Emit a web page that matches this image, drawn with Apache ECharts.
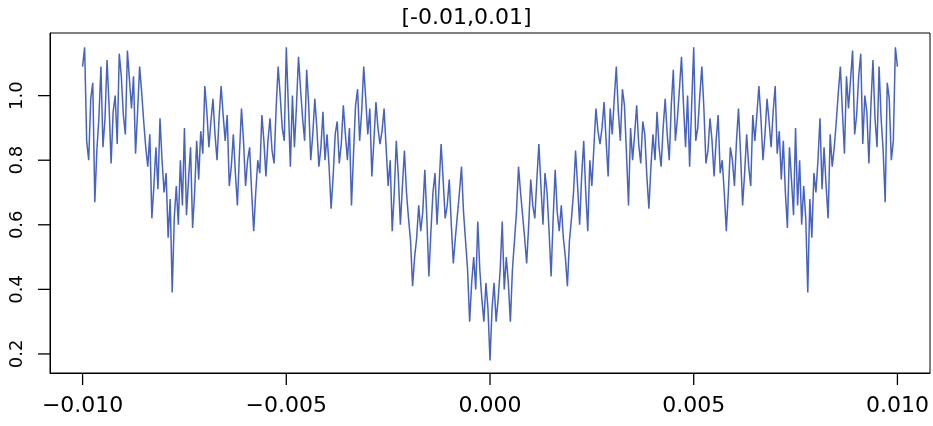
<!DOCTYPE html>
<html>
<head>
<meta charset="utf-8">
<script src="https://cdn.jsdelivr.net/npm/echarts@6/dist/echarts.min.js"></script>
<style>
  html, body { margin: 0; padding: 0; background: #fff; }
  #main { width: 933px; height: 426px; }
</style>
</head>
<body>
<div id="main"></div>
<script>
// sampling grid on x: -0.01 .. 0.01, step 0.00005
var xStart = -0.01;
var xStep = 0.00005;

// values, left half (x = -0.01000 .. 0.00000)
var leftValues = [
  1.09, 1.15, 0.86, 0.80, 0.99, 1.04, 0.67, 0.83, 0.93, 1.09,
  0.84, 0.93, 1.11, 0.97, 0.79, 0.95, 1.00, 0.85, 1.13, 1.06,
  0.94, 0.88, 1.14, 1.05, 0.96, 1.06, 0.82, 0.95, 1.09, 1.01,
  0.92, 0.84, 0.78, 0.88, 0.62, 0.72, 0.84, 0.71, 0.93, 0.80,
  0.70, 0.76, 0.56, 0.68, 0.39, 0.62, 0.72, 0.60, 0.80, 0.66,
  0.90, 0.63, 0.74, 0.84, 0.59, 0.70, 0.86, 0.74, 0.89, 0.82,
  1.03, 0.95, 0.84, 0.92, 0.99, 0.88, 0.80, 0.93, 1.03, 0.94,
  0.86, 0.94, 0.72, 0.78, 0.88, 0.76, 0.66, 0.82, 0.96, 0.86,
  0.72, 0.80, 0.84, 0.70, 0.58, 0.70, 0.80, 0.76, 0.94, 0.86,
  0.75, 0.86, 0.93, 0.83, 0.79, 0.96, 1.09, 1.00, 0.90, 0.86,
  1.15, 0.97, 0.78, 1.00, 0.84, 0.97, 1.12, 1.02, 0.93, 0.86,
  1.08, 0.97, 0.80, 0.88, 0.99, 0.90, 0.78, 0.84, 0.95, 0.80,
  0.88, 0.78, 0.65, 0.75, 0.88, 0.92, 0.79, 0.85, 0.97, 0.88,
  0.80, 0.90, 0.66, 0.82, 0.97, 1.02, 0.86, 0.95, 1.09, 0.99,
  0.88, 0.96, 0.75, 0.86, 0.98, 0.90, 0.85, 0.89, 0.96, 0.84,
  0.72, 0.80, 0.58, 0.70, 0.86, 0.75, 0.60, 0.72, 0.83, 0.70,
  0.62, 0.55, 0.41, 0.50, 0.56, 0.66, 0.58, 0.64, 0.77, 0.62,
  0.44, 0.58, 0.70, 0.76, 0.60, 0.72, 0.85, 0.74, 0.62, 0.66,
  0.74, 0.60, 0.48, 0.56, 0.63, 0.70, 0.78, 0.64, 0.55, 0.46,
  0.30, 0.42, 0.50, 0.40, 0.61, 0.46, 0.37, 0.30, 0.42, 0.34,
  0.18
];

// right half (x = 0.00005 .. 0.01000)
var rightValues = [
  0.34, 0.42, 0.30, 0.37, 0.46, 0.61, 0.40, 0.50, 0.42, 0.30,
  0.46, 0.55, 0.64, 0.78, 0.70, 0.63, 0.56, 0.48, 0.60, 0.74,
  0.66, 0.62, 0.74, 0.85, 0.72, 0.60, 0.76, 0.70, 0.58, 0.44,
  0.62, 0.77, 0.64, 0.58, 0.66, 0.56, 0.50, 0.41, 0.55, 0.62,
  0.70, 0.83, 0.72, 0.60, 0.75, 0.86, 0.70, 0.58, 0.80, 0.72,
  0.84, 0.96, 0.89, 0.85, 0.90, 0.98, 0.86, 0.75, 0.96, 0.88,
  0.99, 1.09, 0.95, 0.86, 1.02, 0.97, 0.82, 0.66, 0.90, 0.80,
  0.88, 0.97, 0.85, 0.79, 0.92, 0.88, 0.75, 0.65, 0.78, 0.88,
  0.80, 0.95, 0.84, 0.78, 0.90, 0.99, 0.88, 0.80, 0.97, 1.08,
  0.86, 0.93, 1.02, 1.12, 0.97, 0.84, 1.00, 0.78, 0.97, 1.15,
  0.86, 0.90, 1.00, 1.09, 0.96, 0.79, 0.83, 0.93, 0.86, 0.75,
  0.86, 0.94, 0.76, 0.80, 0.70, 0.58, 0.70, 0.84, 0.80, 0.72,
  0.86, 0.96, 0.82, 0.66, 0.76, 0.88, 0.78, 0.72, 0.94, 0.86,
  0.94, 1.03, 0.93, 0.80, 0.88, 0.99, 0.92, 0.84, 0.95, 1.03,
  0.82, 0.89, 0.74, 0.86, 0.70, 0.59, 0.84, 0.74, 0.63, 0.90,
  0.66, 0.80, 0.60, 0.72, 0.62, 0.39, 0.68, 0.56, 0.76, 0.70,
  0.80, 0.93, 0.71, 0.84, 0.72, 0.62, 0.88, 0.78, 0.84, 0.92,
  1.01, 1.09, 0.95, 0.82, 1.06, 0.96, 1.05, 1.14, 0.88, 0.94,
  1.06, 1.13, 0.85, 1.00, 0.95, 0.79, 0.97, 1.11, 0.93, 0.84,
  1.09, 0.93, 0.83, 0.67, 1.04, 0.99, 0.80, 0.86, 1.15, 1.09
];

var xTicks = [-0.01, -0.005, 0, 0.005, 0.01];
var yTicks = [0.2, 0.4, 0.6, 0.8, 1.0];

var xMin = -0.0108, xMax = 0.0108;
var yMin = 0.141, yMax = 1.194;

var allValues = leftValues.concat(rightValues);
var points = allValues.map(function (v, i) {
  return [+(xStart + i * xStep).toFixed(5), v];
});

// tick marks drawn with a custom series, so they go through the axes' scales
var tickLen = 12;
var tickData = xTicks.map(function (v) { return [v, yMin, 0]; })
  .concat(yTicks.map(function (v) { return [xMin, v, 1]; }));

function renderTick(params, api) {
  var p = api.coord([api.value(0), api.value(1)]);
  var isY = api.value(2) === 1;
  return {
    type: 'line',
    shape: isY
      ? { x1: p[0], y1: p[1], x2: p[0] - tickLen, y2: p[1] }
      : { x1: p[0], y1: p[1], x2: p[0], y2: p[1] + tickLen },
    style: { stroke: '#000', lineWidth: 1.3 }
  };
}

var chart = echarts.init(document.getElementById('main'));
chart.setOption({
  animation: false,
  title: {
    text: '[-0.01,0.01]',
    left: 'center',
    top: 2,
    textStyle: {
      fontFamily: 'DejaVu Sans',
      fontSize: 22,
      fontWeight: 'normal',
      color: '#000'
    }
  },
  grid: {
    left: 50,
    right: 3,
    top: 33,
    bottom: 53,
    show: true,
    borderColor: '#000',
    borderWidth: 1
  },
  xAxis: {
    type: 'value',
    min: xMin,
    max: xMax,
    splitLine: { show: false },
    axisLine: { show: true, onZero: false, lineStyle: { color: '#000' } },
    axisTick: { show: false },
    axisLabel: {
      customValues: xTicks,
      margin: 22,
      fontFamily: 'DejaVu Sans',
      fontSize: 22,
      color: '#000',
      formatter: function (v) {
        return (v < 0 ? '\u2212' : '') + Math.abs(v).toFixed(3);
      }
    }
  },
  yAxis: {
    type: 'value',
    min: yMin,
    max: yMax,
    splitLine: { show: false },
    axisLine: { show: true, onZero: false, lineStyle: { color: '#000' } },
    axisTick: { show: false },
    axisLabel: {
      customValues: yTicks,
      rotate: 90,
      margin: 24,
      fontFamily: 'DejaVu Sans',
      fontSize: 18,
      color: '#000',
      formatter: function (v) {
        return v.toFixed(1);
      }
    }
  },
  series: [
    {
      type: 'line',
      data: points,
      showSymbol: false,
      lineStyle: { color: '#4862c0', width: 1.5 }
    },
    {
      type: 'custom',
      clip: false,
      silent: true,
      z: 10,
      renderItem: renderTick,
      data: tickData
    }
  ]
});
</script>
</body>
</html>
